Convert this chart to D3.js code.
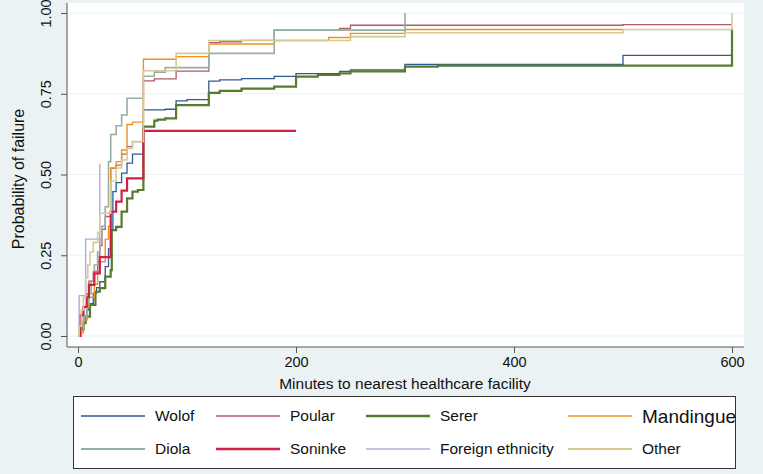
<!DOCTYPE html>
<html>
<head>
<meta charset="utf-8">
<script src="https://cdn.jsdelivr.net/npm/d3@7"></script>
<style>
  body { margin: 0; background: #eaf2f3; }
  svg { display: block; font-family: "Liberation Sans", Arial, sans-serif; }
</style>
</head>
<body>
<svg id="chart" width="763" height="474"></svg>
<script>
// Kaplan-Meier failure estimates by ethnicity: [minutes, probability of failure]
var wolof = [[0,0],[2,0.02],[5,0.05],[8,0.08],[10,0.1],[14,0.133],[17,0.15],[20,0.168],[25,0.215],[28,0.27],[30,0.33],[32,0.447],[35,0.475],[40,0.504],[45,0.535],[50,0.563],[60,0.70],[80,0.702],[90,0.728],[100,0.732],[120,0.789],[130,0.793],[150,0.797],[180,0.804],[200,0.812],[240,0.819],[250,0.824],[300,0.841],[500,0.869],[600,0.869]];
var poular = [[0,0],[2,0.06],[5,0.09],[8,0.13],[10,0.17],[14,0.2],[18,0.23],[20,0.28],[22,0.33],[25,0.37],[30,0.519],[35,0.529],[40,0.563],[45,0.586],[50,0.602],[60,0.79],[70,0.796],[90,0.82],[120,0.908],[130,0.911],[150,0.915],[180,0.947],[240,0.952],[250,0.962],[500,0.964],[600,0.964]];
var serer = [[0,0],[2,0.02],[5,0.04],[7,0.06],[11,0.096],[16,0.137],[20,0.148],[25,0.184],[30,0.204],[31,0.328],[35,0.338],[40,0.385],[45,0.426],[50,0.447],[55,0.452],[60,0.648],[70,0.667],[73,0.67],[80,0.674],[90,0.715],[120,0.753],[130,0.759],[150,0.766],[180,0.772],[200,0.803],[220,0.808],[240,0.813],[250,0.819],[300,0.834],[330,0.837],[600,0.953]];
var mandingue = [[0,0],[3,0.01],[5,0.05],[8,0.09],[10,0.12],[15,0.16],[18,0.2],[20,0.23],[25,0.3],[28,0.34],[30,0.52],[35,0.54],[40,0.576],[45,0.655],[50,0.662],[60,0.857],[90,0.865],[120,0.904],[180,0.915],[230,0.924],[250,0.937],[300,0.949],[500,0.949]];
var diola = [[0,0],[3,0.03],[5,0.06],[8,0.1],[10,0.13],[12,0.17],[15,0.22],[18,0.26],[20,0.3],[22,0.34],[25,0.4],[28,0.54],[30,0.624],[35,0.651],[40,0.684],[45,0.736],[60,0.804],[70,0.817],[80,0.831],[120,0.875],[180,0.947],[300,1.0]];
var soninke = [[0,0],[2,0.065],[5,0.09],[8,0.12],[10,0.158],[15,0.194],[20,0.244],[30,0.385],[35,0.416],[40,0.45],[45,0.488],[60,0.635],[200,0.635]];
var foreign = [[0,0],[1,0.125],[7,0.30],[20,0.533]];
var other = [[0,0],[1,0.03],[3,0.08],[5,0.12],[7,0.18],[9,0.22],[11,0.26],[14,0.29],[18,0.32],[20,0.38],[30,0.48],[35,0.52],[40,0.545],[45,0.581],[50,0.602],[60,0.821],[90,0.875],[120,0.915],[250,0.927],[300,0.939],[500,0.949],[600,1.0]];

var names = ["Wolof", "Poular", "Serer", "Mandingue", "Diola", "Soninke", "Foreign ethnicity", "Other"];
var colors = ["#2e5b94", "#b25a68", "#587a2c", "#f0901f", "#97aea3", "#cf2148", "#b0aae0", "#d6cb94"];
var widths = [1.3, 1.3, 2.2, 1.4, 1.6, 2.2, 1.4, 1.6];
var xTicks = [0, 200, 400, 600];
var yTicks = [0, 0.25, 0.5, 0.75, 1];

var series = [wolof, poular, serer, mandingue, diola, soninke, foreign, other];

var svg = d3.select("#chart");

// plot region
svg.append("rect").attr("x", 67).attr("y", 3).attr("width", 677).attr("height", 344).attr("fill", "#ffffff");

var x = d3.scaleLinear().domain([0, 600]).range([78, 732]);
var y = d3.scaleLinear().domain([0, 1]).range([336, 13]);

// gridlines
svg.append("g").selectAll("line").data(yTicks).enter().append("line")
  .attr("x1", 67).attr("x2", 744)
  .attr("y1", function (d) { return y(d); }).attr("y2", function (d) { return y(d); })
  .attr("stroke", "#eaf2f3").attr("stroke-width", 1.2);

// axes
var yAxis = d3.axisLeft(y).tickValues(yTicks).tickFormat(d3.format(".2f")).tickSize(6).tickSizeOuter(0);
var gy = svg.append("g").attr("transform", "translate(67,0)").call(yAxis);
gy.select(".domain").attr("d", "M0,3V347").attr("stroke", "#555");
gy.selectAll(".tick line").attr("stroke", "#555");
gy.selectAll(".tick text")
  .attr("transform", function (d) { return "translate(-21," + 0 + ") rotate(-90)"; })
  .attr("x", 0).attr("dy", "0.35em").attr("text-anchor", "middle")
  .attr("font-size", 14.5).attr("fill", "#111").attr("font-family", "Liberation Sans, Arial, sans-serif");
gy.selectAll(".tick text").attr("y", function () { return 0; });
gy.selectAll(".tick").each(function () {
  var t = d3.select(this).select("text");
  t.attr("transform", "translate(-21,0) rotate(-90)");
});

var xAxis = d3.axisBottom(x).tickValues(xTicks).tickFormat(d3.format("d")).tickSize(6).tickSizeOuter(0);
var gx = svg.append("g").attr("transform", "translate(0,347)").call(xAxis);
gx.select(".domain").attr("d", "M67,0H744").attr("stroke", "#555");
gx.selectAll(".tick line").attr("stroke", "#555");
gx.selectAll(".tick text").attr("font-size", 14.5).attr("fill", "#111").attr("y", 10)
  .attr("font-family", "Liberation Sans, Arial, sans-serif");

// axis titles
svg.append("text").attr("x", 405).attr("y", 389).attr("text-anchor", "middle")
  .attr("font-size", 15.5).attr("fill", "#111").text("Minutes to nearest healthcare facility");
svg.append("text").attr("transform", "translate(24,179) rotate(-90)").attr("text-anchor", "middle")
  .attr("font-size", 16).attr("fill", "#111").text("Probability of failure");

// step curves
var line = d3.line()
  .x(function (d) { return x(d[0]); })
  .y(function (d) { return y(d[1]); })
  .curve(d3.curveStepAfter);

svg.append("g").selectAll("path").data(series).enter().append("path")
  .attr("d", line)
  .attr("fill", "none")
  .attr("stroke", function (d, i) { return colors[i]; })
  .attr("stroke-width", function (d, i) { return widths[i]; });

// legend
var lg = svg.append("g");
lg.append("rect").attr("x", 73.5).attr("y", 396.5).attr("width", 662).attr("height", 72)
  .attr("fill", "#ffffff").attr("stroke", "#333").attr("stroke-width", 1);
var colX = [81, 216, 366, 568];
var rowY = [416, 449];
names.forEach(function (n, i) {
  var cx = colX[i % 4], cy = rowY[Math.floor(i / 4)];
  lg.append("line").attr("x1", cx).attr("x2", cx + 64).attr("y1", cy).attr("y2", cy)
    .attr("stroke", colors[i]).attr("stroke-width", widths[i] + 0.3);
  lg.append("text").attr("x", cx + 74).attr("y", cy).attr("dy", "0.35em")
    .attr("font-size", n === "Mandingue" ? 19 : 15.5).attr("fill", "#111").text(n);
});
</script>
</body>
</html>
